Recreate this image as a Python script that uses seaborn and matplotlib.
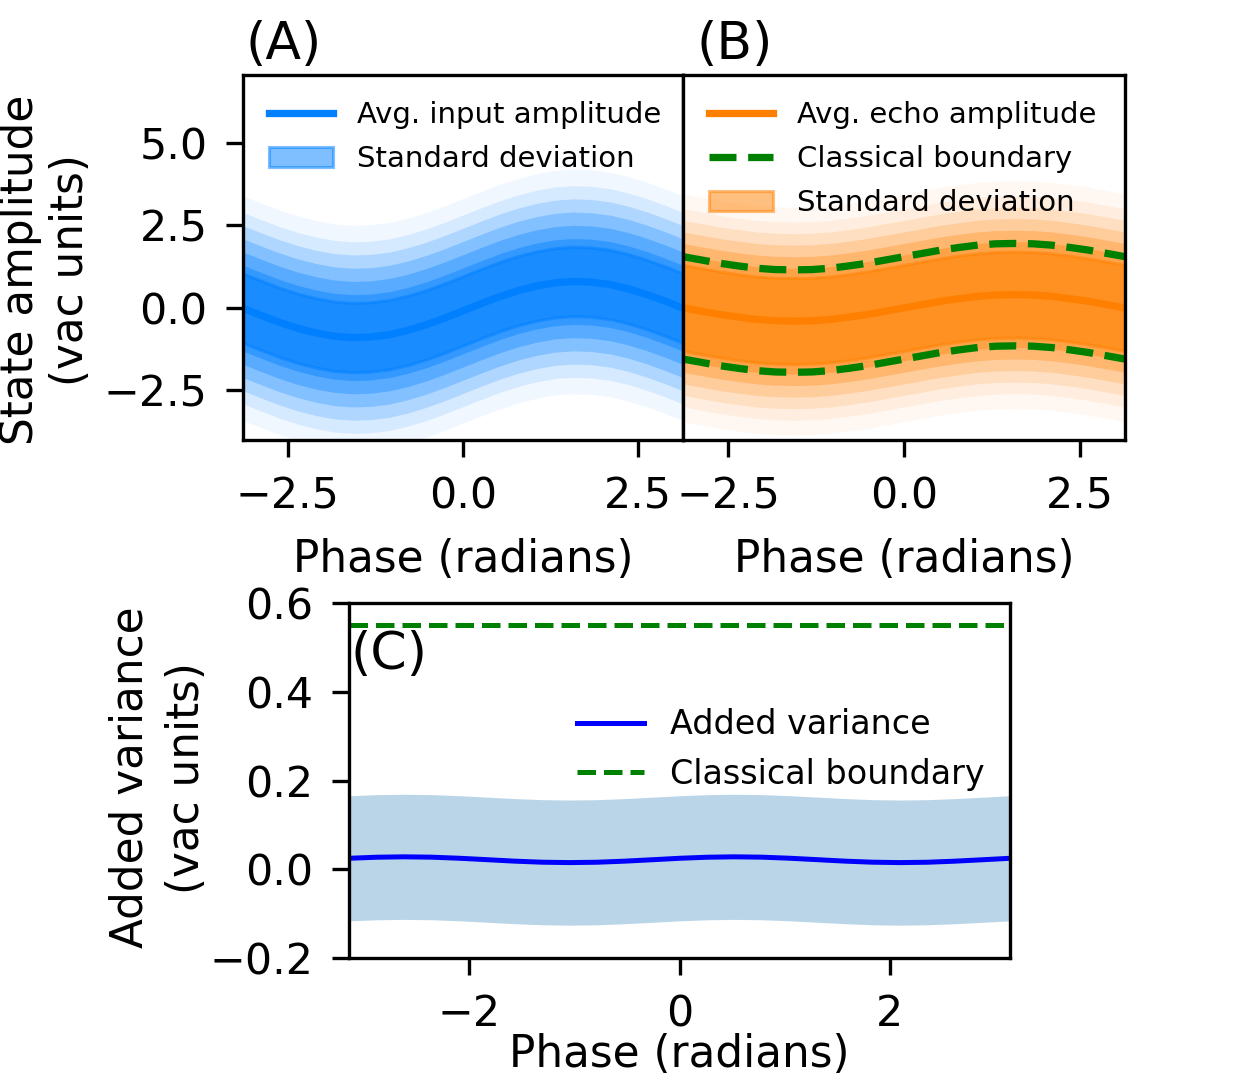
import numpy as np
import seaborn as sns
import matplotlib
matplotlib.use("Agg")
import matplotlib.pyplot as plt

# phase grid (radians), 15 degree steps
phase = np.linspace(-np.pi, np.pi, 25)

# panel A: averaged input amplitude
input_mean = [-0.01, -0.23, -0.44, -0.62, -0.76, -0.86, -0.90, -0.88, -0.81,
              -0.68, -0.51, -0.31, -0.09, 0.13, 0.34, 0.52, 0.66, 0.76,
              0.80, 0.78, 0.71, 0.58, 0.41, 0.21, -0.01]
input_std = 1.05
input_spread = [1.3, 1.7, 2.1, 2.5, 2.9, 3.4]   # extent of the sample cloud

# panel B: averaged echo amplitude
echo_mean = [0.00, -0.10, -0.20, -0.28, -0.35, -0.39, -0.40, -0.39, -0.35,
             -0.28, -0.20, -0.10, 0.00, 0.10, 0.20, 0.28, 0.35, 0.39,
             0.40, 0.39, 0.35, 0.28, 0.20, 0.10, 0.00]
echo_std = 1.3
echo_spread = [1.6, 1.95, 2.3, 2.65, 3.0, 3.45]
classical_halfwidth = 1.55

# panel C: added variance
added_var = [0.0247, 0.0271, 0.0280, 0.0272, 0.0248, 0.0216, 0.0183, 0.0159,
             0.0150, 0.0158, 0.0182, 0.0214, 0.0247, 0.0271, 0.0280, 0.0272,
             0.0248, 0.0216, 0.0183, 0.0159, 0.0150, 0.0158, 0.0182, 0.0214,
             0.0247]
added_var_err = 0.141
classical_var = 0.55

BLUE = "#0080ff"
ORANGE = "#ff8000"
GREEN = "#008000"

plt.rcParams.update({
    "font.family": ["DejaVu Sans"],
    "font.size": 20.5,
    "axes.linewidth": 1.6,
    "xtick.major.size": 8, "ytick.major.size": 8,
    "xtick.major.width": 1.6, "ytick.major.width": 1.6,
    "xtick.major.pad": 9, "ytick.major.pad": 9,
    "xtick.labelsize": 20.5, "ytick.labelsize": 20.5,
    "axes.labelsize": 21,
})

input_mean = np.array(input_mean)
echo_mean = np.array(echo_mean)
added_var = np.array(added_var)

fig = plt.figure(figsize=(1239 / 150, 1080 / 150), dpi=150)
axA = fig.add_axes([243 / 1239, 1 - 440 / 1080, 440 / 1239, 365 / 1080])
axB = fig.add_axes([683 / 1239, 1 - 440 / 1080, 442 / 1239, 365 / 1080], sharey=axA)
axC = fig.add_axes([349 / 1239, 1 - 958 / 1080, 661 / 1239, 355 / 1080])


def amplitude_panel(ax, mean, std, spread, color, line_label, fade):
    # the sample cloud, drawn as stacked translucent bands (outermost first)
    for w, a in list(zip(spread, fade))[::-1]:
        ax.fill_between(phase, mean - w, mean + w, color=color, alpha=a, lw=0)
    band = ax.fill_between(phase, mean - std, mean + std, color=color, alpha=0.5,
                           lw=1.5, label="Standard deviation")
    sns.lineplot(x=phase, y=mean, color=color, lw=3.5, ax=ax, label=line_label)
    ax.set_xlim(-np.pi, np.pi)
    ax.set_xticks([-2.5, 0.0, 2.5])
    ax.set_xlabel("Phase (radians)", labelpad=10)
    return band


band_a = amplitude_panel(axA, input_mean, input_std, input_spread, BLUE,
                         "Avg. input amplitude",
                         [0.4, 0.32, 0.25, 0.18, 0.11, 0.06])
line_a = axA.get_lines()[0]
axA.legend([line_a, band_a], ["Avg. input amplitude", "Standard deviation"],
           loc="upper left", frameon=False, fontsize=14, handlelength=2.2,
           labelspacing=0.55)
axA.set_ylim(-4, 7.05)
axA.set_yticks([-2.5, 0.0, 2.5, 5.0])
axA.set_ylabel("State amplitude\n(vac units)", multialignment="center")
axA.yaxis.set_label_coords(-0.343, 0.466)
axA.text(0.005, 1.015, "(A)", transform=axA.transAxes, fontsize=25,
         va="bottom", ha="left")

band_b = amplitude_panel(axB, echo_mean, echo_std, echo_spread, ORANGE,
                         "Avg. echo amplitude",
                         [0.35, 0.28, 0.2, 0.13, 0.08, 0.05])
line_b = axB.get_lines()[0]
sns.lineplot(x=phase, y=echo_mean + classical_halfwidth, color=GREEN, lw=3.5,
             linestyle="--", ax=axB, label="Classical boundary")
sns.lineplot(x=phase, y=echo_mean - classical_halfwidth, color=GREEN, lw=3.5,
             linestyle="--", ax=axB)
green_b = axB.get_lines()[1]
axB.legend([line_b, green_b, band_b],
           ["Avg. echo amplitude", "Classical boundary", "Standard deviation"],
           loc="upper left", frameon=False, fontsize=14, handlelength=2.2,
           labelspacing=0.55)
axB.tick_params(left=False, labelleft=False)
axB.set_ylabel("")
axB.text(0.03, 1.015, "(B)", transform=axB.transAxes, fontsize=25,
         va="bottom", ha="left")

axC.fill_between(phase, added_var - added_var_err, added_var + added_var_err,
                 color="C0", alpha=0.3, lw=0)
sns.lineplot(x=phase, y=added_var, color="blue", lw=2.4, ax=axC,
             label="Added variance")
axC.axhline(classical_var, color=GREEN, lw=2.4, linestyle="--",
            label="Classical boundary")
axC.legend(loc="upper left", bbox_to_anchor=(0.325, 0.741), borderaxespad=0,
           frameon=False, fontsize=16, labelspacing=0.5)
axC.set_xlim(-np.pi, np.pi)
axC.set_ylim(-0.2, 0.6)
axC.set_xticks([-2, 0, 2])
axC.set_yticks([-0.2, 0.0, 0.2, 0.4, 0.6])
axC.set_xlabel("Phase (radians)", labelpad=-1)
axC.set_ylabel("Added variance\n(vac units)", multialignment="center",
               linespacing=1.4)
axC.yaxis.set_label_coords(-0.213, 0.508)
axC.text(0.003, 0.925, "(C)", transform=axC.transAxes, fontsize=25,
         va="top", ha="left")

fig.savefig("out.png", dpi=150)
